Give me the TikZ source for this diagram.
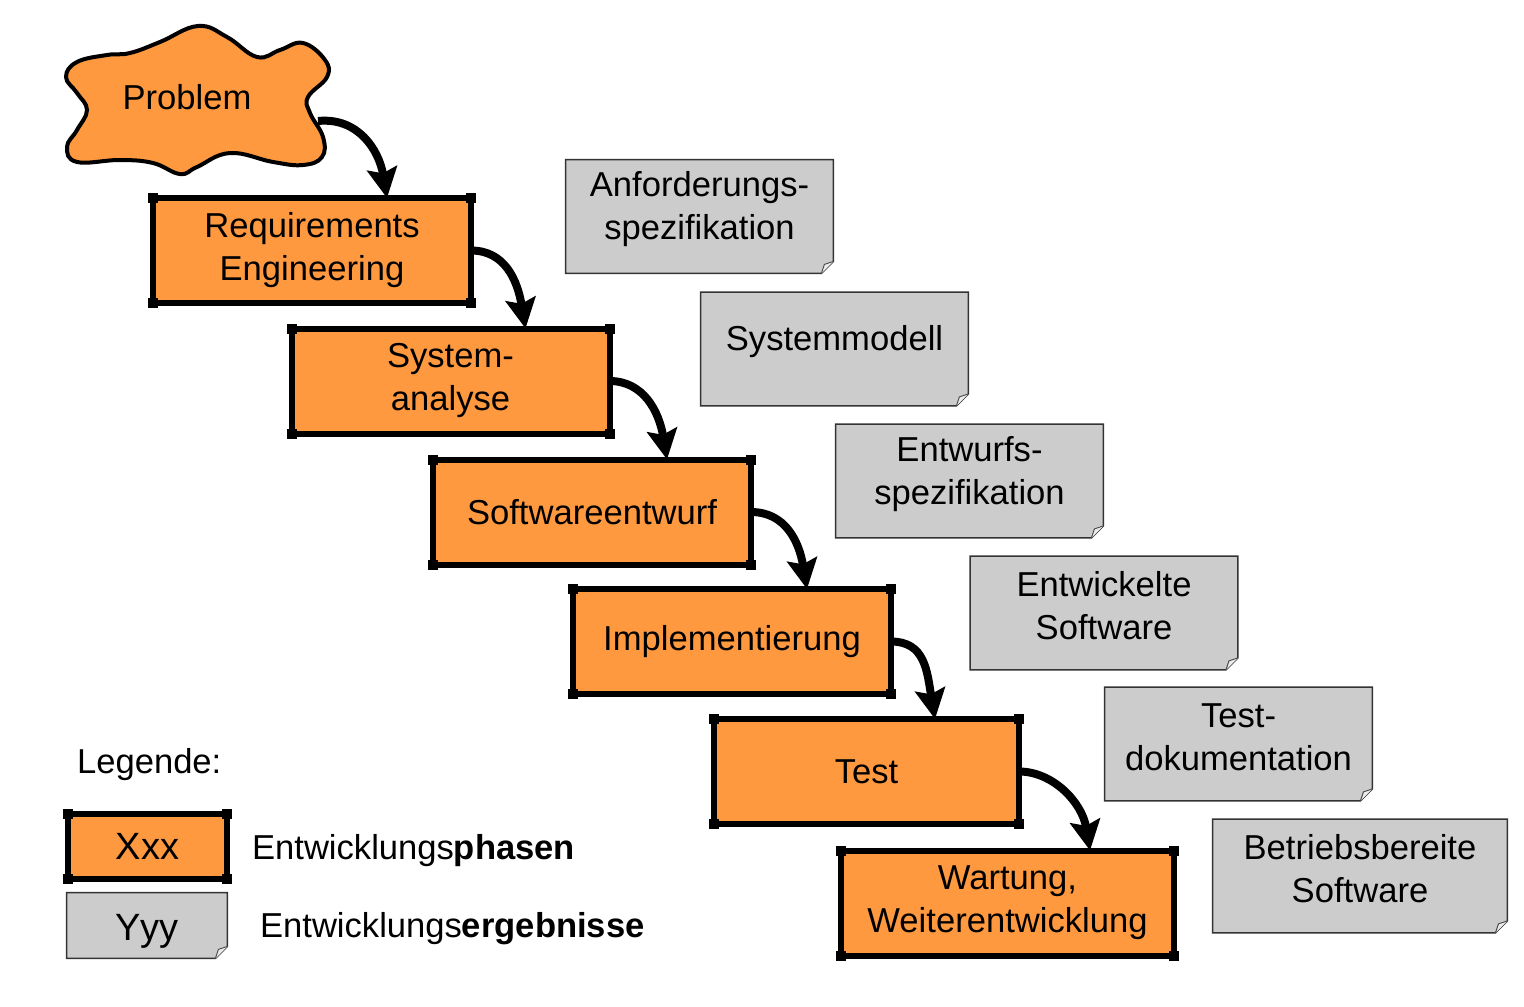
\documentclass[tikz,border=0pt]{standalone}
\usepackage{fontspec}
\setmainfont{Liberation Sans}
\usetikzlibrary{arrows.meta}
\definecolor{phaseorange}{RGB}{254,153,64}
\definecolor{docgray}{RGB}{204,204,204}
\tikzset{
  phase/.style={draw=black,fill=phaseorange,line width=3pt,outer sep=0pt,
    minimum width=159pt,minimum height=52.5pt,align=center},
  result/.style={fill=docgray,inner sep=0pt,minimum width=133.5pt,minimum height=56.5pt},
  every label/.style={align=center,yshift=3.5pt},
  flow/.style={line width=4pt,-{Stealth[length=15pt,width=15pt,inset=2.5pt]}}
}
\begin{document}
\begin{tikzpicture}[x=0.5pt,y=-0.5pt,font=\fontsize{17.3}{21.5}\selectfont]
  \useasboundingbox (0,0) rectangle (1524,1006);
  % problem cloud
  \filldraw[fill=phaseorange,line width=2pt] plot[smooth cycle,tension=0.7] coordinates {
    (66,77) (77,62) (107,55) (130,53) (160,42) (198,26) (227,37) (257,57)
    (280,50) (303,43) (325,60) (327,77) (308,97) (310,113) (323,137) (322,157)
    (303,165) (273,162) (230,153) (197,167) (180,174) (153,163) (120,160)
    (77,162) (67,147) (77,130) (87,110) (77,93)};
  \node (prob) at (187,97) {Problem};
  \coordinate (probout) at (318,121);
  % phases
  \node[phase] (re) at (312,250.5) {Requirements\\Engineering};
  \node[phase] (sa) at (450.5,381) {System-\\analyse};
  \node[phase] (swe) at (592,512) {Softwareentwurf};
  \node[phase] (impl) at (732,641.5) {Implementierung};
  \node[phase,minimum width=152.5pt] (test) at (866.5,771.5) {Test};
  \node[phase,minimum width=166.5pt] (wart) at (1007.5,903) {Wartung,\\Weiterentwicklung};
  % results
  \node[result,label={center:Anforderungs-\\spezifikation}] (anf) at (699.5,216.5) {};
  \node[result,label={center:Systemmodell}] (sysm) at (834.5,349) {};
  \node[result,label={center:Entwurfs-\\spezifikation}] (entw) at (969.5,481) {};
  \node[result,label={center:Entwickelte\\Software}] (sw) at (1104,613) {};
  \node[result,label={center:Test-\\dokumentation}] (testdok) at (1238.5,744) {};
  \node[result,minimum width=147pt,label={center:Betriebsbereite\\Software}] (betr) at (1360,876) {};
  % legend
  \node[anchor=west] (legtitle) at (70,765) {Legende:};
  \node[phase,minimum width=79.5pt,minimum height=32.5pt,font=\fontsize{19}{22}\selectfont] (legphase) at (147.5,846.5) {Xxx};
  \node[result,minimum width=80pt,minimum height=32.5pt,
    label={[yshift=-6.5pt,font=\fontsize{19}{22}\selectfont]center:Yyy}] (legresult) at (147,925.5) {};
  \node[anchor=west] (legphasetxt) at (245,851) {Entwicklungs\textbf{phasen}};
  \node[anchor=west] (legresulttxt) at (253,929) {Entwicklungs\textbf{ergebnisse}};
  % dog-eared corners
  \foreach \n in {anf,sysm,entw,sw,testdok,betr,legresult}{
    \fill[white] (\n.south east) -- ([xshift=-6pt]\n.south east) -- ([yshift=6pt]\n.south east) -- cycle;
    \draw[line width=0.7pt,black!80] (\n.north west) -- (\n.north east) -- ([yshift=6pt]\n.south east)
      -- ([xshift=-6pt]\n.south east) -- (\n.south west) -- cycle;
    \filldraw[fill=gray!15,draw=black!70,line width=0.5pt] ([yshift=6pt]\n.south east)
      -- ([xshift=-4.5pt,yshift=4.5pt]\n.south east) -- ([xshift=-6pt]\n.south east);
  }
  % corner marks
  \foreach \n in {re,sa,swe,impl,test,wart,legphase}
    \foreach \a in {north west,north east,south west,south east}
      \fill (\n.\a) +(-2.5pt,-2.5pt) rectangle +(2.5pt,2.5pt);
  % arrows
  \draw[flow] (probout) .. controls +(20pt,2pt) and +(-4pt,24pt) .. ([xshift=-42pt]re.north east);
  \foreach \a/\b in {re/sa,sa/swe,swe/impl,impl/test,test/wart}
    \draw[flow] (\a.east) .. controls +(17pt,0pt) and +(-4pt,24pt) .. ([xshift=-42pt]\b.north east);
\end{tikzpicture}
\end{document}
